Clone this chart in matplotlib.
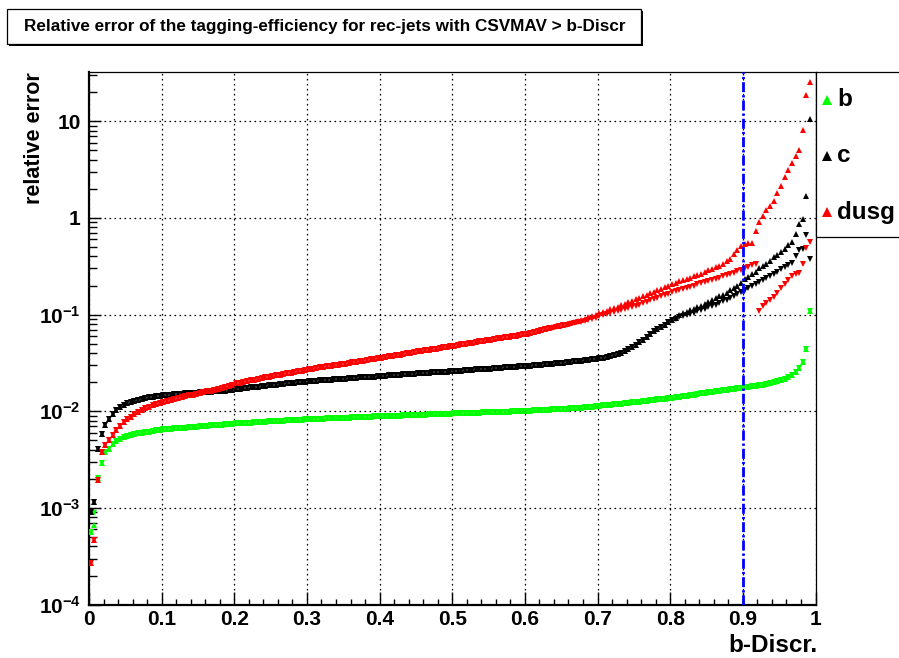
import numpy as np
import matplotlib
matplotlib.use("Agg")
import matplotlib.pyplot as plt
from matplotlib.patches import Rectangle
from matplotlib.lines import Line2D
from matplotlib.ticker import FixedLocator, FixedFormatter, NullFormatter

plt.rcParams["font.family"] = ["Liberation Sans", "DejaVu Sans"]
plt.rcParams["font.weight"] = "bold"
plt.rcParams["mathtext.fontset"] = "custom"
plt.rcParams["mathtext.rm"] = "Liberation Sans:bold"
plt.rcParams["mathtext.it"] = "Liberation Sans:bold"
plt.rcParams["mathtext.bf"] = "Liberation Sans:bold"

nan = np.nan

# ---------------------------------------------------------------- data
bin_edges = np.linspace(0.0, 1.0, 201)      # 200 bins of b-Discr.
b_cut = 0.9                                 # working point

# relative error (in percent) of the tagging efficiency, upper / lower
b_up = [
    0.056, 0.066, 0.203, 0.29, 0.38, 0.41, 0.46, 0.49, 0.52, 0.54, 0.56, 0.57, 0.58, 0.59, 0.60, 0.605, 0.615, 0.625, 0.635, 0.645,
    0.65, 0.655, 0.66, 0.665, 0.67, 0.675, 0.68, 0.685, 0.69, 0.695, 0.70, 0.705, 0.71, 0.715, 0.72, 0.725, 0.73, 0.735, 0.74, 0.745,
    0.75, 0.754, 0.758, 0.762, 0.766, 0.77, 0.774, 0.778, 0.782, 0.786, 0.79, 0.794, 0.798, 0.802, 0.806, 0.81, 0.814, 0.818, 0.822, 0.826,
    0.83, 0.833, 0.836, 0.839, 0.842, 0.845, 0.848, 0.851, 0.854, 0.857, 0.86, 0.863, 0.866, 0.869, 0.872, 0.875, 0.878, 0.881, 0.884, 0.887,
    0.89, 0.893, 0.896, 0.899, 0.902, 0.905, 0.908, 0.911, 0.914, 0.917, 0.92, 0.923, 0.926, 0.929, 0.932, 0.935, 0.938, 0.941, 0.944, 0.947,
    0.95, 0.953, 0.956, 0.959, 0.962, 0.965, 0.968, 0.971, 0.974, 0.977, 0.98, 0.983, 0.986, 0.989, 0.992, 0.995, 0.998, 1.001, 1.004, 1.007,
    1.01, 1.015, 1.02, 1.025, 1.03, 1.035, 1.04, 1.045, 1.05, 1.056, 1.062, 1.068, 1.074, 1.08, 1.087, 1.094, 1.101, 1.108, 1.115, 1.125,
    1.14, 1.15, 1.16, 1.17, 1.18, 1.19, 1.20, 1.21, 1.22, 1.235, 1.25, 1.26, 1.27, 1.285, 1.30, 1.31, 1.325, 1.34, 1.35, 1.365,
    1.38, 1.395, 1.41, 1.43, 1.45, 1.47, 1.49, 1.51, 1.53, 1.55, 1.57, 1.59, 1.61, 1.63, 1.65, 1.67, 1.69, 1.71, 1.73, 1.75,
    1.77, 1.79, 1.81, 1.83, 1.86, 1.89, 1.92, 1.96, 2.00, 2.05, 2.10, 2.18, 2.28, 2.40, 2.57, 2.80, 3.20, 4.45, 11.0, nan,
]
b_dn = b_up[:1] + [0.088] + b_up[2:]

c_up = [
    0.09, 0.115, 0.405, 0.58, 0.73, 0.83, 0.93, 1.03, 1.10, 1.16, 1.21, 1.25, 1.29, 1.32, 1.34, 1.36, 1.39, 1.41, 1.43, 1.45,
    1.47, 1.48, 1.49, 1.50, 1.51, 1.52, 1.53, 1.54, 1.55, 1.56, 1.57, 1.58, 1.59, 1.60, 1.61, 1.62, 1.63, 1.64, 1.66, 1.68,
    1.70, 1.72, 1.74, 1.75, 1.77, 1.79, 1.80, 1.82, 1.84, 1.85, 1.87, 1.89, 1.90, 1.92, 1.94, 1.95, 1.97, 1.99, 2.01, 2.03,
    2.05, 2.06, 2.08, 2.09, 2.10, 2.12, 2.13, 2.14, 2.16, 2.17, 2.18, 2.20, 2.21, 2.22, 2.24, 2.25, 2.26, 2.28, 2.29, 2.30,
    2.32, 2.33, 2.35, 2.36, 2.38, 2.39, 2.41, 2.42, 2.44, 2.45, 2.47, 2.48, 2.50, 2.51, 2.53, 2.54, 2.56, 2.57, 2.58, 2.60,
    2.61, 2.63, 2.64, 2.66, 2.68, 2.69, 2.71, 2.72, 2.74, 2.76, 2.77, 2.79, 2.81, 2.82, 2.84, 2.86, 2.88, 2.89, 2.91, 2.93,
    2.95, 2.97, 2.99, 3.01, 3.03, 3.05, 3.08, 3.10, 3.13, 3.16, 3.19, 3.22, 3.25, 3.28, 3.31, 3.34, 3.37, 3.41, 3.45, 3.49,
    3.55, 3.60, 3.66, 3.73, 3.81, 3.90, 4.02, 4.17, 4.37, 4.60, 4.85, 5.15, 5.50, 5.90, 6.30, 6.70, 7.10, 7.50, 7.90, 8.30,
    8.8, 9.3, 9.8, 10.3, 10.7, 11.1, 11.5, 11.9, 12.4, 12.9, 13.5, 14.1, 14.7, 15.4, 16.1, 16.9, 17.8, 18.8, 20.0, 21.4,
    23.2, 24.5, 26.0, 27.5, 30.0, 31.5, 33.5, 36.0, 39.0, 41.5, 44.0, 48.0, 53.0, 57.0, 69.0, 87.5, 98.0, 167.0, 1060.0, nan,
]
c_dn = c_up[:160] + [
    8.8, 9.1, 9.4, 9.7, 9.9, 10.2, 10.5, 10.8, 11.1, 11.5, 11.9, 12.3, 12.7, 13.2, 13.7, 14.3, 14.9, 15.6, 16.3, 17.1,
    18.0, 18.8, 19.6, 20.5, 21.5, 22.6, 23.8, 25.0, 26.3, 27.7, 29.3, 31.0, 32.5, 34.0, 40.0, 47.0, 48.0, 66.0, 37.7, nan,
]

dusg_up = [
    0.027, 0.047, 0.195, 0.38, 0.45, 0.505, 0.57, 0.64, 0.70, 0.77, 0.83, 0.88, 0.94, 0.98, 1.02, 1.07, 1.11, 1.15, 1.19, 1.23,
    1.25, 1.28, 1.31, 1.34, 1.37, 1.40, 1.43, 1.46, 1.49, 1.52, 1.55, 1.58, 1.61, 1.64, 1.68, 1.72, 1.76, 1.80, 1.84, 1.89,
    1.95, 1.98, 2.02, 2.06, 2.10, 2.13, 2.17, 2.21, 2.25, 2.29, 2.32, 2.36, 2.40, 2.44, 2.48, 2.52, 2.56, 2.60, 2.64, 2.68,
    2.72, 2.76, 2.80, 2.84, 2.88, 2.92, 2.96, 3.00, 3.04, 3.08, 3.12, 3.16, 3.20, 3.25, 3.30, 3.35, 3.40, 3.45, 3.50, 3.55,
    3.60, 3.65, 3.70, 3.75, 3.80, 3.86, 3.92, 3.98, 4.04, 4.10, 4.16, 4.22, 4.28, 4.34, 4.40, 4.46, 4.52, 4.58, 4.64, 4.70,
    4.78, 4.85, 4.92, 4.99, 5.06, 5.13, 5.20, 5.28, 5.36, 5.44, 5.52, 5.60, 5.68, 5.76, 5.84, 5.92, 6.00, 6.08, 6.17, 6.26,
    6.35, 6.50, 6.65, 6.80, 6.95, 7.10, 7.25, 7.40, 7.55, 7.70, 7.85, 8.05, 8.25, 8.45, 8.65, 8.85, 9.10, 9.35, 9.60, 9.90,
    10.3, 10.6, 10.9, 11.3, 11.7, 12.1, 12.5, 12.9, 13.4, 13.9, 14.4, 14.9, 15.5, 16.1, 16.7, 17.3, 17.9, 18.6, 19.3, 20.0,
    20.7, 21.4, 22.1, 22.8, 23.5, 24.2, 24.9, 25.7, 26.6, 27.6, 28.6, 29.7, 30.9, 32.2, 33.6, 35.5, 38.0, 42.0, 47.0, 51.0,
    53.5, 55.0, 55.7, 73.0, 90.0, 104.0, 120.0, 134.0, 151.0, 179.0, 213.0, 266.0, 316.0, 370.0, 435.0, 500.0, 820.0, 1860.0, 2530.0, nan,
]
dusg_dn = dusg_up[:126] + [
    7.2, 7.32, 7.45, 7.58, 7.72, 7.86, 8.0, 8.15, 8.3, 8.45, 8.6, 8.8, 9.0, 9.2,
    9.65, 9.85, 10.05, 10.3, 10.55, 10.8, 11.05, 11.3, 11.6, 11.95, 12.3, 12.7, 13.1, 13.5, 14.0, 14.4, 14.9, 15.4, 15.9, 16.4,
    17.0, 17.5, 18.0, 18.5, 19.0, 19.5, 20.0, 20.5, 21.1, 21.7, 22.3, 22.9, 23.5, 24.1, 24.8, 25.5, 26.3, 27.1, 28.0, 29.0,
    30.0, 31.2, 32.5, 33.0, 11.0, 12.4, 13.2, 14.3, 15.2, 16.7, 18.8, 20.9, 23.0, 25.0, 26.0, 27.0, 33.0, 49.0, 56.0, nan,
]

flavours = ["b", "c", "dusg"]
colours = ["#00ff00", "#000000", "#ff0000"]
x_ticks = [0.0, 0.1, 0.2, 0.3, 0.4, 0.5, 0.6, 0.7, 0.8, 0.9, 1.0]
x_labels = ["0", "0.1", "0.2", "0.3", "0.4", "0.5", "0.6", "0.7", "0.8", "0.9", "1"]
y_ticks = [1e-4, 1e-3, 1e-2, 1e-1, 1.0, 10.0]
y_labels = [r"$10^{-4}$", r"$10^{-3}$", r"$10^{-2}$", r"$10^{-1}$", "1", "10"]
title = "Relative error of the tagging-efficiency for rec-jets with CSVMAV > b-Discr"

# ---------------------------------------------------------------- figure
W, H = 899, 658
fig = plt.figure(figsize=(W / 100, H / 100), dpi=100)
fig.patch.set_facecolor("white")

x0, x1, ytop, ybot = 89, 815.5, 72, 604.7
ax = fig.add_axes([x0 / W, 1 - ybot / H, (x1 - x0) / W, (ybot - ytop) / H])

centres = 0.5 * (bin_edges[:-1] + bin_edges[1:])
series = [(b_up, b_dn), (c_up, c_dn), (dusg_up, dusg_dn)]
for (up, dn), col in zip(series, colours):
    ax.plot(centres, np.array(up) / 100.0, linestyle="none", marker="^",
            ms=4.0, mew=0, color=col, zorder=3)
    ax.plot(centres, np.array(dn) / 100.0, linestyle="none", marker="v",
            ms=4.0, mew=0, color=col, zorder=3)

ax.axvline(b_cut, color="#0000ff", lw=2.0, linestyle=(0, (3.6, 1.1, 0.8, 1.1)), zorder=4)

ax.set_yscale("log")
ax.set_xlim(0.0, 1.0)
ax.set_ylim(1e-4, 32.3)

ax.xaxis.set_major_locator(FixedLocator(x_ticks))
ax.xaxis.set_major_formatter(FixedFormatter(x_labels))
ax.xaxis.set_minor_locator(FixedLocator(np.arange(0.0, 1.0001, 0.02)))
ax.yaxis.set_major_locator(FixedLocator(y_ticks))
ax.yaxis.set_major_formatter(FixedFormatter(y_labels))
minor_y = [m * 10.0 ** e for e in range(-4, 2) for m in range(2, 10)]
ax.yaxis.set_minor_locator(FixedLocator(minor_y))
ax.yaxis.set_minor_formatter(NullFormatter())

ax.tick_params(axis="x", which="major", direction="in", length=9.5, width=1.0,
               labelsize=15, pad=4, top=False)
ax.tick_params(axis="x", which="minor", direction="in", length=4.5, width=1.0, top=False)
ax.tick_params(axis="y", which="major", direction="in", length=8.5, width=1.0,
               labelsize=15, pad=6, right=False)
ax.tick_params(axis="y", which="minor", direction="in", length=5.5, width=1.0, right=False)
for lab in ax.get_xticklabels() + ax.get_yticklabels():
    lab.set_fontweight("bold")

ax.grid(True, which="major", color="black", linestyle=(0, (1.3, 2.7)), linewidth=0.9)
ax.set_axisbelow(True)
for side, lw in (("left", 1.6), ("bottom", 1.6), ("top", 0.9), ("right", 0.9)):
    ax.spines[side].set_linewidth(lw)

# ---------------------------------------------------------------- annotations (pixel overlay)
ov = fig.add_axes([0, 0, 1, 1], facecolor="none")
ov.set_xlim(0, W)
ov.set_ylim(H, 0)
ov.axis("off")

# title pave with shadow
ov.add_patch(Rectangle((9, 11), 634, 35, facecolor="black", edgecolor="none", zorder=1))
ov.add_patch(Rectangle((7, 9), 634, 35, facecolor="white", edgecolor="black", lw=0.9, zorder=2))
ov.text(325, 27, title, ha="center", va="center", fontsize=12.3, fontweight="bold", zorder=3)

# axis titles
ov.text(817, 646, "b-Discr.", ha="right", va="center", fontsize=17.5, fontweight="bold")
ov.text(34, 72, "relative error", ha="center", va="top", rotation=90,
        fontsize=15.5, fontweight="bold")

# legend box
ov.add_patch(Rectangle((815.5, 72), 100, 165, facecolor="white", edgecolor="black",
                       lw=0.9, zorder=2, clip_on=False))
for i, (name, col) in enumerate(zip(flavours, colours)):
    yy = 100 + 56 * i
    ov.add_line(Line2D([827], [yy], marker="^", ms=7, mew=0, color=col, zorder=3))
    ov.text(837, yy, name, ha="left", va="center", fontsize=17.5, fontweight="bold", zorder=3)

fig.savefig("out.png", dpi=100)
